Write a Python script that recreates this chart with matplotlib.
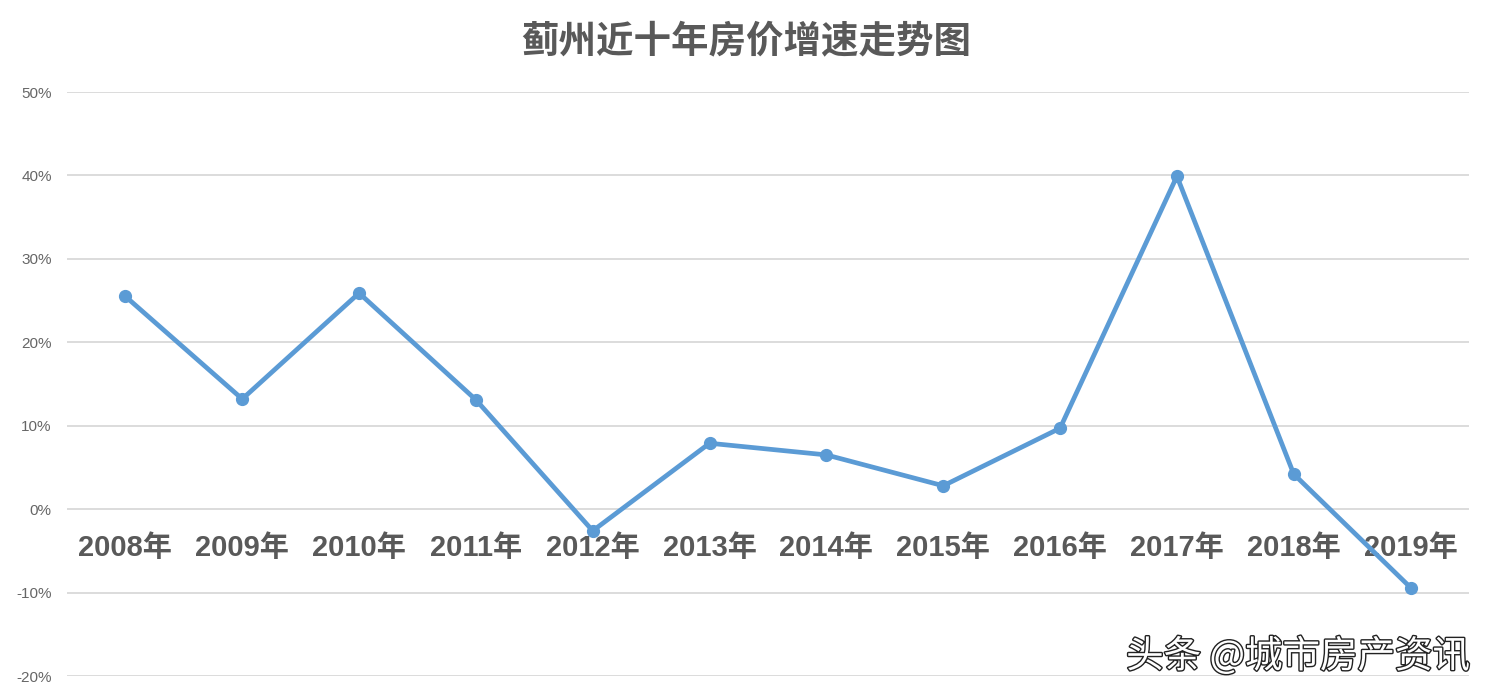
import matplotlib
matplotlib.use("Agg")
import matplotlib.pyplot as plt
import matplotlib.patheffects as pe
from matplotlib.ticker import FuncFormatter

plt.rcParams['font.family'] = ['Liberation Sans', 'Noto Sans CJK SC', 'DejaVu Sans']

title = "蓟州近十年房价增速走势图"
years = ["2008年", "2009年", "2010年", "2011年", "2012年", "2013年",
         "2014年", "2015年", "2016年", "2017年", "2018年", "2019年"]
growth = [25.5, 13.2, 25.9, 13.1, -2.6, 7.9, 6.5, 2.8, 9.7, 39.9, 4.2, -9.4]
yticks = [-20, -10, 0, 10, 20, 30, 40, 50]
watermark = "头条 @城市房产资讯"

W, H = 1492, 699
fig = plt.figure(figsize=(W / 100, H / 100), dpi=100)
ax = fig.add_axes([67 / W, 1 - 676 / H, (1469 - 67) / W, (676 - 92) / H])

x = list(range(len(years)))
ax.plot(x, growth, color='#5B9BD5', linewidth=3.4, marker='o', markersize=8.5,
        solid_capstyle='round', zorder=3)

ax.set_xlim(-0.5, len(years) - 0.5)
ax.set_ylim(-20, 50)
ax.set_yticks(yticks)
ax.yaxis.set_major_formatter(FuncFormatter(lambda v, p: f"{v:.0f}%"))
ax.grid(axis='y', color='#D9D9D9', linewidth=1.3, zorder=0)
for s in ax.spines.values():
    s.set_visible(False)
ax.tick_params(axis='y', length=0, pad=11, labelsize=11, labelcolor='#666666')

ax.set_xticks([])
for xi, lab in zip(x, years):
    ax.annotate(lab, (xi, 0), xytext=(0, -39), textcoords='offset pixels',
                ha='center', va='center', fontsize=21, fontweight='bold',
                color='#595959', family=['Liberation Sans', 'Noto Sans CJK SC'],
                zorder=2)

fig.text(746 / W, 1 - 42 / H, title, ha='center', va='center', fontsize=27,
         fontweight='bold', color='#595959',
         family=['Noto Sans CJK SC', 'DejaVu Sans'])

fig.text(1470 / W, 1 - 657 / H, watermark, ha='right', va='center', fontsize=27,
         color='white', family=['Noto Sans CJK SC', 'DejaVu Sans'],
         fontweight='light',
         path_effects=[pe.withStroke(linewidth=2, foreground='#222222')])

fig.savefig("out.png", dpi=100, facecolor='white')
